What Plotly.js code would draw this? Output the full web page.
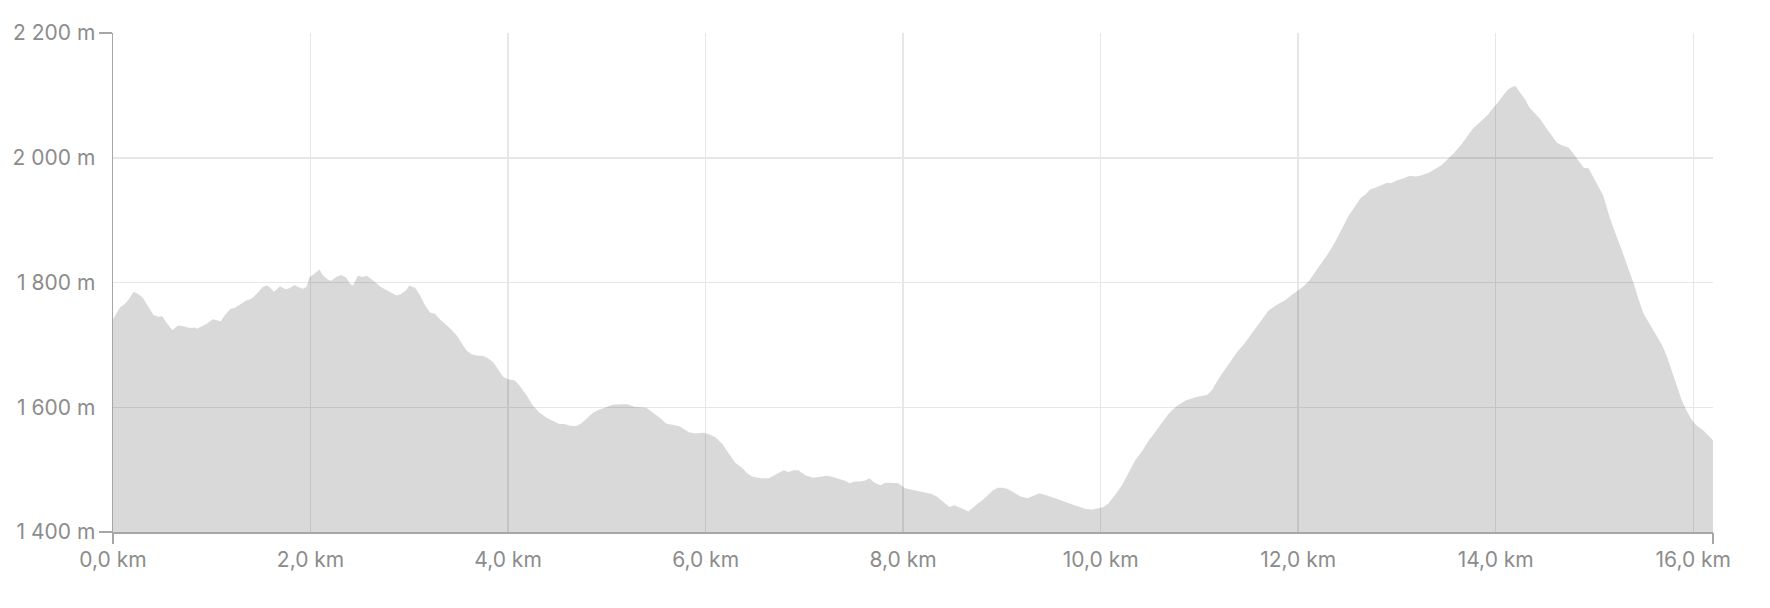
<!DOCTYPE html>
<html>
<head>
<meta charset="utf-8">
<script src="https://cdn.plot.ly/plotly-3.0.1.min.js"></script>
<style>
  html, body { margin: 0; padding: 0; background: #ffffff; }
  #chart { width: 1770px; height: 608px; }
</style>
</head>
<body>
<div id="chart"></div>
<script>
// Distance along the route (km)
const distanceKm = [
  0.00,0.07,0.12,0.15,0.21,0.25,0.30,0.35,0.41,0.46,0.50,0.54,0.60,0.66,0.71,0.78,0.83,0.85,0.90,0.95,
  1.01,1.05,1.09,1.13,1.19,1.23,1.29,1.35,1.40,1.45,1.52,1.56,1.59,1.63,1.65,1.69,1.75,1.79,1.84,1.87,
  1.92,1.96,1.99,2.03,2.09,2.13,2.18,2.21,2.26,2.31,2.36,2.40,2.43,2.48,2.53,2.57,2.62,2.67,2.72,2.77,
  2.82,2.87,2.92,2.97,3.00,3.06,3.11,3.16,3.21,3.26,3.31,3.36,3.41,
  3.48,3.53,3.58,3.63,3.68,3.75,3.80,3.85,3.90,3.95,4.00,4.07,4.12,4.19,4.25,4.32,4.39,4.45,4.52,4.57,
  4.64,4.69,4.74,4.79,4.86,4.92,4.99,5.06,5.13,5.21,5.28,5.35,5.40,5.46,5.53,5.60,5.65,5.73,5.78,5.83,
  5.90,5.97,6.03,6.10,6.17,6.24,6.30,6.37,6.42,6.47,6.56,6.64,6.69,6.74,6.79,6.84,6.89,6.94,
  7.01,7.09,7.16,7.23,7.29,7.36,7.41,7.46,7.51,7.56,7.61,7.66,7.71,7.77,7.82,7.88,7.95,
  8.02,8.08,8.15,8.22,8.29,8.34,8.39,8.44,8.47,8.52,8.57,8.62,8.66,8.71,8.76,8.81,8.86,8.91,8.96,
  9.01,9.06,9.13,9.19,9.26,9.31,9.38,9.45,9.53,9.61,9.70,9.78,9.85,9.92,9.97,
  10.03,10.08,10.15,10.22,10.29,10.35,10.42,10.48,10.55,10.62,10.69,10.77,10.86,10.96,
  11.08,11.13,11.19,11.26,11.33,11.38,11.45,11.53,11.62,11.70,11.78,11.87,11.95,
  12.04,12.11,12.17,12.24,12.31,12.38,12.44,12.51,12.58,12.63,12.68,12.73,12.80,12.86,12.90,12.94,
  13.00,13.07,13.13,13.19,13.25,13.32,13.39,13.45,13.51,13.58,13.65,13.71,13.77,13.82,13.87,13.92,13.97,
  14.02,14.07,14.12,14.17,14.20,14.25,14.30,14.34,14.39,14.45,14.51,14.57,14.62,14.67,14.74,14.79,14.84,14.89,14.94,14.99,
  15.04,15.09,15.14,15.19,15.26,15.33,15.40,15.45,15.50,15.55,15.61,15.68,15.73,15.78,15.83,15.88,15.93,15.98,
  16.03,16.10,16.15,16.20
];

// Elevation (m)
const elevationM = [
  1741,1760,1766,1771,1785,1782,1776,1763,1748,1745,1746,1736,1724,1731,1730,1727,1728,1726,1730,1734,
  1741,1740,1738,1747,1758,1759,1765,1771,1774,1781,1793,1795,1792,1785,1788,1794,1789,1791,1796,1793,
  1790,1793,1809,1813,1821,1811,1804,1803,1809,1812,1808,1798,1795,1811,1809,1811,1805,1798,1792,1788,
  1783,1779,1782,1788,1795,1791,1779,1763,1752,1750,1741,1734,1727,
  1715,1702,1691,1685,1683,1682,1678,1672,1660,1649,1645,1643,1634,1619,1603,1591,1583,1578,1573,1573,
  1570,1570,1574,1581,1591,1596,1600,1604,1605,1605,1601,1600,1599,1592,1584,1574,1572,1570,1565,1560,
  1558,1559,1557,1552,1541,1525,1511,1503,1494,1489,1486,1486,1490,1494,1499,1496,1499,1499,
  1491,1487,1488,1490,1488,1485,1482,1478,1481,1481,1482,1486,1479,1475,1479,1479,1478,
  1470,1468,1466,1463,1461,1457,1450,1444,1440,1443,1440,1436,1433,1440,1446,1452,1460,1467,1471,
  1471,1469,1463,1457,1454,1457,1462,1459,1454,1450,1445,1441,1437,1436,1438,
  1440,1446,1460,1476,1497,1515,1530,1545,1560,1575,1590,1602,1611,1616,
  1620,1628,1645,1661,1677,1688,1701,1718,1736,1755,1764,1772,1782,
  1792,1803,1816,1832,1848,1867,1885,1907,1923,1935,1941,1949,1953,1958,1960,1959,
  1964,1967,1971,1970,1972,1976,1983,1988,1997,2008,2021,2035,2047,2054,2061,2069,2079,
  2088,2099,2109,2114,2115,2104,2093,2081,2072,2062,2048,2035,2024,2020,2016,2006,1995,1984,1983,1968,
  1955,1939,1912,1888,1859,1829,1797,1771,1749,1736,1720,1701,1683,1659,1635,1613,1595,1581,
  1571,1563,1555,1547
];

// Axis ticks
const xTickVals = [0, 2, 4, 6, 8, 10, 12, 14, 16];
const xTickText = ["0,0 km", "2,0 km", "4,0 km", "6,0 km", "8,0 km", "10,0 km", "12,0 km", "14,0 km", "16,0 km"];
const yTickVals = [1400, 1600, 1800, 2000, 2200];
const yTickText = ["1 400 m", "1 600 m", "1 800 m", "2 000 m", "2 200 m"];

const xMax = distanceKm[distanceKm.length - 1];
const yRange = [yTickVals[0], yTickVals[yTickVals.length - 1]];
const xEdgeTicks = [0, xMax];
const yEdgeTicks = yRange.slice();

const tickFont = { family: "Inter, 'Liberation Sans', sans-serif", size: 21, color: "#8c8c8c" };
const axisColor = "#a6a6a6";
const gridColor = "#e7e7e7";

const traces = [
  {
    type: "scatter",
    mode: "lines",
    x: distanceKm,
    y: elevationM,
    fill: "tozeroy",
    fillcolor: "rgba(0,0,0,0.15)",
    line: { width: 0, color: "rgba(0,0,0,0)", shape: "linear" },
    hoverinfo: "skip",
    showlegend: false
  },
  {
    type: "scatter",
    mode: "lines",
    x: xEdgeTicks,
    y: yEdgeTicks,
    xaxis: "x2",
    yaxis: "y2",
    line: { width: 0, color: "rgba(0,0,0,0)" },
    hoverinfo: "skip",
    showlegend: false
  }
];

const layout = {
  width: 1770,
  height: 608,
  margin: { l: 113, r: 57, t: 33, b: 76, pad: 0 },
  paper_bgcolor: "#ffffff",
  plot_bgcolor: "#ffffff",
  showlegend: false,
  xaxis: {
    range: [0, xMax],
    tickmode: "array",
    tickvals: xTickVals,
    ticktext: xTickText,
    ticks: "",
    showgrid: true,
    gridcolor: gridColor,
    gridwidth: 1.5,
    zeroline: false,
    showline: true,
    linecolor: axisColor,
    linewidth: 1.5,
    tickfont: tickFont,
    ticklabelstandoff: 8,
    layer: "above traces",
    fixedrange: true
  },
  yaxis: {
    range: yRange,
    tickmode: "array",
    tickvals: yTickVals,
    ticktext: yTickText,
    ticks: "",
    showgrid: true,
    gridcolor: gridColor,
    gridwidth: 1.5,
    zeroline: false,
    showline: true,
    linecolor: axisColor,
    linewidth: 1.5,
    tickfont: tickFont,
    ticklabelstandoff: 12,
    layer: "above traces",
    fixedrange: true
  },
  xaxis2: {
    overlaying: "x",
    anchor: "y",
    range: [0, xMax],
    tickmode: "array",
    tickvals: xEdgeTicks,
    ticks: "outside",
    ticklen: 11,
    tickwidth: 1.5,
    tickcolor: axisColor,
    showticklabels: false,
    showgrid: false,
    zeroline: false,
    showline: false,
    fixedrange: true
  },
  yaxis2: {
    overlaying: "y",
    anchor: "x",
    side: "left",
    range: yRange,
    tickmode: "array",
    tickvals: yEdgeTicks,
    ticks: "outside",
    ticklen: 13,
    tickwidth: 1.5,
    tickcolor: axisColor,
    showticklabels: false,
    showgrid: false,
    zeroline: false,
    showline: false,
    fixedrange: true
  }
};

Plotly.newPlot("chart", traces, layout, { displayModeBar: false, staticPlot: true });
</script>
</body>
</html>
